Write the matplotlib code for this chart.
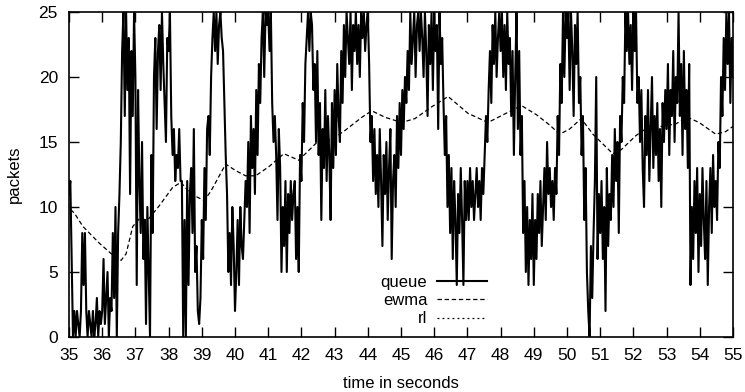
import numpy as np
import matplotlib
matplotlib.use("Agg")
import matplotlib.pyplot as plt

plt.rcParams['font.family'] = ['Liberation Sans', 'DejaVu Sans']

# queue samples, one row per second (25 samples/s from 35.00 to 54.96) + final 55.00
queue_rows = [
    [11, 12, 6, 0, 2, 0, 2, 1, 0, 2, 8, 4, 8, 2, 0, 2, 1, 0, 2, 0, 1, 3, 0, 2, 1],
    [2, 6, 1, 3, 5, 0, 3, 2, 8, 3, 10, 0, 8, 11, 15, 22, 25, 17, 25, 19, 23, 11, 22, 17, 25],
    [20, 4, 19, 12, 8, 15, 6, 9, 1, 10, 5, 0, 14, 8, 20, 23, 16, 22, 24, 19, 25, 21, 18, 15, 23],
    [22, 25, 17, 14, 16, 12, 14, 13, 16, 12, 12, 0, 9, 0, 12, 4, 11, 13, 8, 16, 5, 7, 2, 1, 3],
    [9, 6, 13, 9, 16, 17, 14, 20, 23, 25, 22, 25, 21, 24, 25, 23, 22, 18, 14, 11, 5, 8, 4, 10, 7],
    [2, 5, 9, 4, 10, 7, 6, 9, 12, 10, 15, 8, 17, 13, 16, 11, 19, 14, 21, 18, 23, 25, 20, 25, 24],
    [25, 22, 25, 18, 15, 17, 14, 9, 16, 13, 5, 10, 7, 12, 5, 11, 8, 12, 9, 11, 12, 6, 10, 5, 14],
    [12, 18, 15, 21, 23, 25, 22, 25, 24, 19, 21, 15, 22, 14, 18, 9, 16, 13, 19, 12, 17, 14, 9, 18, 13],
    [19, 14, 21, 17, 15, 22, 18, 24, 20, 25, 23, 21, 25, 19, 24, 22, 25, 21, 24, 20, 25, 23, 25, 22, 24],
    [25, 21, 15, 17, 12, 16, 11, 14, 10, 16, 12, 7, 14, 11, 15, 9, 13, 16, 6, 12, 14, 10, 17, 13, 18],
    [14, 19, 16, 20, 18, 22, 19, 25, 21, 23, 25, 20, 24, 25, 22, 25, 23, 20, 25, 22, 17, 24, 21, 25, 19],
    [25, 22, 24, 16, 25, 21, 23, 18, 14, 17, 10, 14, 8, 13, 6, 12, 9, 4, 11, 8, 13, 9, 4, 12, 9],
    [12, 9, 13, 10, 12, 9, 11, 13, 10, 12, 9, 13, 11, 14, 17, 15, 19, 22, 18, 24, 21, 25, 20, 23, 25],
    [22, 25, 20, 24, 19, 25, 21, 23, 17, 22, 14, 20, 25, 16, 22, 14, 17, 8, 12, 5, 10, 4, 9, 6, 11],
    [4, 9, 6, 11, 8, 12, 7, 10, 13, 9, 15, 11, 13, 10, 12, 9, 13, 11, 17, 14, 21, 18, 25, 20, 25],
    [23, 25, 19, 25, 22, 17, 24, 21, 25, 18, 20, 14, 17, 9, 13, 5, 2, 0, 7, 3, 8, 12, 20, 6, 11],
    [8, 12, 6, 10, 2, 13, 7, 11, 9, 14, 10, 16, 12, 15, 8, 17, 15, 20, 18, 25, 22, 25, 21, 24, 19],
    [25, 22, 25, 18, 20, 15, 19, 13, 10, 17, 14, 19, 12, 16, 20, 13, 17, 14, 18, 12, 16, 10, 18, 15, 19],
    [16, 21, 14, 19, 17, 22, 15, 20, 18, 25, 17, 21, 14, 22, 16, 19, 13, 21, 4, 10, 6, 12, 8, 13, 5],
    [11, 7, 13, 9, 6, 12, 4, 10, 13, 8, 14, 10, 12, 9, 15, 13, 20, 17, 23, 19, 25, 21, 25, 18, 23],
]
queue_last = 20
queue_start = 35.0
queue_step = 0.04

ewma_t = [35.05, 35.17, 35.42, 35.92, 36.32, 36.57, 36.72, 36.92, 37.12, 37.37, 37.72,
          38.12, 38.37, 38.67, 39.07, 39.27, 39.72, 40.02, 40.32, 40.62, 41.02, 41.47,
          41.92, 42.52, 42.92, 43.32, 43.82, 44.12, 44.52, 45.02, 45.42, 45.92, 46.42,
          47.02, 47.62, 48.08, 48.63, 49.08, 49.48, 49.78, 50.08, 50.43, 50.78, 50.98,
          51.38, 51.63, 52.08, 52.48, 52.88, 53.28, 53.63, 53.98, 54.48, 54.78, 55.0]
ewma_v = [9.8, 9.5, 8.5, 7.2, 6.3, 5.9, 6.4, 8.5, 9.1, 9.0, 10.1,
          11.5, 11.9, 11.0, 10.5, 11.2, 13.3, 12.8, 12.4, 12.4, 13.1, 14.1,
          13.6, 15.1, 15.2, 15.9, 16.9, 17.4, 16.9, 16.5, 16.8, 17.7, 18.5,
          17.2, 16.5, 17.1, 17.8, 17.1, 16.3, 15.6, 16.0, 16.8, 15.6, 15.1,
          14.1, 14.4, 15.5, 16.2, 16.2, 16.4, 16.9, 16.5, 15.6, 15.8, 16.2]

rl_t = []
rl_v = []

xticks = list(range(35, 56))
yticks = [0, 5, 10, 15, 20, 25]

queue_v = [v for row in queue_rows for v in row] + [queue_last]
queue_t = queue_start + queue_step * np.arange(len(queue_v))

fig = plt.figure(figsize=(7.45, 3.92), dpi=100)
ax = fig.add_axes([69/745, 1 - 337/392, (733-69)/745, (337-12)/392])

ax.plot(queue_t, queue_v, color='black', lw=1.5, label='queue')
ax.plot(ewma_t, ewma_v, color='black', lw=0.9, dashes=(3.5, 2.2), label='ewma')
ax.plot(rl_t, rl_v, color='black', lw=0.9, dashes=(1.5, 2.5), label='rl')

ax.set_xlim(35, 55)
ax.set_ylim(0, 25)
ax.set_xticks(xticks)
ax.set_yticks(yticks)
ax.tick_params(direction='in', length=7, width=1, top=True, right=True,
               labelsize=12.5, pad=8)
for s in ax.spines.values():
    s.set_linewidth(1.2)

ax.set_xlabel('time in seconds', fontsize=12, labelpad=9)
ax.set_ylabel('packets', fontsize=12, labelpad=12)

leg = ax.legend(loc='lower right', bbox_to_anchor=((494-69)/664, 0.012),
                frameon=False, markerfirst=False, fontsize=12,
                handlelength=3.0, handletextpad=0.6, labelspacing=0.2,
                borderaxespad=0.0)
for t in leg.get_texts():
    t.set_ha('right')

fig.savefig('out.png', dpi=100)
